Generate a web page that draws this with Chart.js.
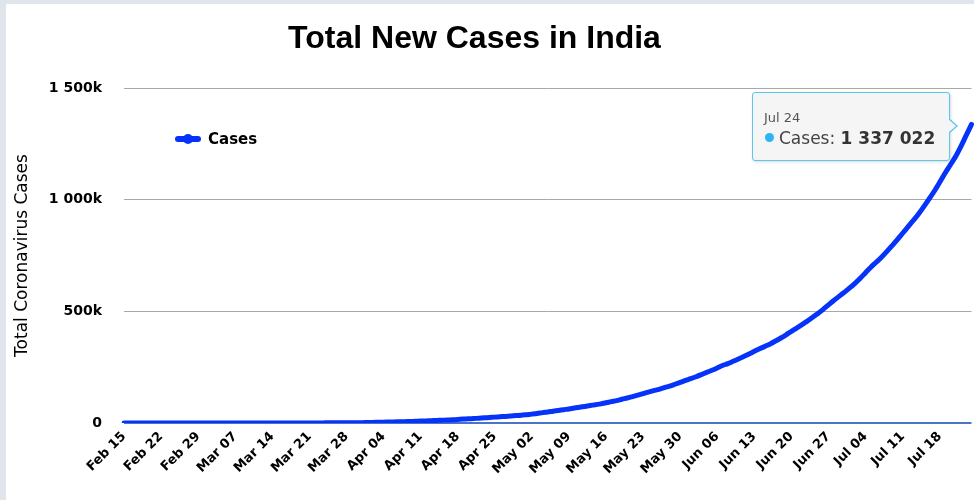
<!DOCTYPE html>
<html>
<head>
<meta charset="utf-8">
<script src="https://cdn.jsdelivr.net/npm/chart.js@4"></script>
<style>
  html, body { margin: 0; padding: 0; background: #fff; }
  #frame { position: absolute; left: 0; top: 0; width: 974px; height: 500px; overflow: hidden;
           border-left: 6px solid #dfe5ea; border-top: 4px solid #dfe5ea; box-sizing: border-box; }
  #wrap { position: absolute; left: 0; top: 0; width: 974px; height: 500px; }
  #title { position: absolute; top: 19px; left: 0; width: 949px; text-align: center;
           font: bold 32px "Liberation Sans", Arial, sans-serif; color: #000; }
  #tip { position: absolute; opacity: 0; background: #f5f5f5; border: 1px solid #5cc6ec;
         border-radius: 3px; box-shadow: 1px 1px 3px rgba(0,0,0,.15); padding: 17px 14px 12px 9px;
         font-family: "DejaVu Sans", Verdana, sans-serif; white-space: nowrap; }
  #tip .t { font-size: 13px; color: #555; margin-left: 2px; margin-bottom: 3px; }
  #tip .b { font-size: 17px; color: #444; }
  #tip .b i { display: inline-block; width: 9px; height: 9px; border-radius: 50%; background: #29b6f6;
              margin: 0 5px 0 3px; vertical-align: 2px; }
  #tip .v { font-weight: bold; color: #333; }
  #tip::after { content: ''; position: absolute; right: -9px; top: 50%; margin-top: -8px;
                border-style: solid; border-width: 8px 0 8px 9px;
                border-color: transparent transparent transparent #5cc6ec; }
  #tip::before { content: ''; position: absolute; right: -7px; top: 50%; margin-top: -7px; z-index: 1;
                 border-style: solid; border-width: 7px 0 7px 8px;
                 border-color: transparent transparent transparent #f5f5f5; }
</style>
</head>
<body>
<div id="frame"></div>
<div id="wrap">
  <div id="title">Total New Cases in India</div>
  <canvas id="chart" width="974" height="500"></canvas>
  <div id="tip"><div class="t"></div><div class="b"><i></i>Cases: <span class="v"></span></div></div>
</div>
<script>
// cumulative confirmed cases, one value per day from Feb 15 to Jul 24
const febCases = [3, 3, 3, 3, 3, 3, 3, 3, 3, 3, 3, 3, 3, 3, 3];
const marCases = [3, 5, 6, 28, 30, 31, 34, 39, 48, 63, 71, 81, 91, 102, 112, 126, 146, 171, 198, 256,
  334, 403, 497, 571, 657, 730, 883, 1019, 1139, 1326, 1635];
const aprCases = [2059, 2545, 3105, 3684, 4293, 4778, 5351, 5916, 6725, 7598, 8446, 9205, 10453, 11487, 12322,
  13430, 14352, 15722, 17615, 18539, 20080, 21370, 23077, 24530, 26283, 27890, 29451, 31324, 33062, 34863];
const mayCases = [37257, 39699, 42505, 46437, 49400, 53045, 56351, 59765, 62939, 67176, 70768, 74292, 78055,
  81997, 85784, 90648, 95698, 100328, 106475, 112028, 118226, 124794, 131423, 138536, 144950, 150793, 158086,
  165386, 173491, 181827, 190609];
const junCases = [198370, 207191, 216824, 226713, 236184, 246628, 257486, 265928, 276146, 286605, 297535,
  308993, 320922, 332424, 343091, 354065, 366946, 380532, 395048, 410451, 425282, 440215, 456183, 473105,
  490401, 508953, 528859, 548318, 566840, 585493];
const julCases = [604641, 625544, 648315, 673165, 697413, 719665, 742417, 767296, 793802, 820916, 849553,
  878254, 906752, 936181, 968876, 1003832, 1038716, 1077781, 1118043, 1155191, 1193078, 1238635, 1288108,
  1337022];
const cases = [].concat(febCases, marCases, aprCases, mayCases, junCases, julCases);

const tickLabels = ['Feb 15', 'Feb 22', 'Feb 29', 'Mar 07', 'Mar 14', 'Mar 21', 'Mar 28', 'Apr 04', 'Apr 11',
  'Apr 18', 'Apr 25', 'May 02', 'May 09', 'May 16', 'May 23', 'May 30', 'Jun 06', 'Jun 13', 'Jun 20',
  'Jun 27', 'Jul 04', 'Jul 11', 'Jul 18'];
const yTicks = [0, 500000, 1000000, 1500000];

// day labels "Mon DD"
const MONTHS = ['Jan', 'Feb', 'Mar', 'Apr', 'May', 'Jun', 'Jul', 'Aug', 'Sep', 'Oct', 'Nov', 'Dec'];
const days = cases.map((_, i) => {
  const d = new Date(Date.UTC(2020, 1, 15 + i));
  return MONTHS[d.getUTCMonth()] + ' ' + String(d.getUTCDate()).padStart(2, '0');
});

const LINE = '#0533fa';

function spaced(n) { return String(n).replace(/\B(?=(\d{3})+(?!\d))/g, ' '); }

function externalTooltip({ chart, tooltip }) {
  const el = document.getElementById('tip');
  if (tooltip.opacity === 0) { el.style.opacity = 0; return; }
  const p = tooltip.dataPoints[0];
  el.querySelector('.t').textContent = tooltip.title[0];
  el.querySelector('.v').textContent = spaced(p.raw);
  el.style.opacity = 1;
  el.style.left = (tooltip.caretX - 22 - el.offsetWidth) + 'px';
  el.style.top = (tooltip.caretY + 2 - el.offsetHeight / 2) + 'px';
}

// legend sits inside the plot, top left
const insideLegend = {
  id: 'insideLegend',
  afterDraw(chart) {
    const c = chart.ctx;
    const x = 178, y = 139;
    c.save();
    c.strokeStyle = LINE; c.fillStyle = LINE; c.lineWidth = 6; c.lineCap = 'round';
    c.beginPath(); c.moveTo(x, y); c.lineTo(x + 20, y); c.stroke();
    c.beginPath(); c.arc(x + 10, y, 5, 0, Math.PI * 2); c.fill();
    c.fillStyle = '#000';
    c.font = 'bold 15px "DejaVu Sans", Verdana, sans-serif';
    c.textBaseline = 'middle';
    c.fillText(chart.data.datasets[0].label, x + 30, y + 1);
    c.restore();
  }
};

const chart = new Chart(document.getElementById('chart'), {
  type: 'line',
  data: {
    labels: days,
    datasets: [{
      label: 'Cases', data: cases, borderColor: LINE, backgroundColor: LINE,
      borderWidth: 5, pointRadius: 0, pointHoverRadius: 0, tension: 0.3, borderCapStyle: 'round'
    }]
  },
  options: {
    responsive: false, animation: false, events: [],
    layout: { padding: { left: 8, top: 88, right: 2, bottom: 0 } },
    plugins: {
      legend: { display: false },
      tooltip: { enabled: false, external: externalTooltip }
    },
    scales: {
      x: {
        offset: false,
        grid: { display: false, drawTicks: false },
        border: { display: false },
        afterFit(s) { s.height = 77; s.paddingLeft = 0; s.paddingRight = 0; },
        ticks: {
          autoSkip: false, minRotation: 45, maxRotation: 45, padding: 6, color: '#000',
          font: { family: '"DejaVu Sans", Verdana, sans-serif', weight: 'bold', size: 13 },
          callback(v) { const l = this.getLabelForValue(v); return tickLabels.includes(l) ? l : ''; }
        }
      },
      y: {
        min: 0, max: 1500000,
        afterFit(s) { s.width = 116; },
        afterBuildTicks(s) { s.ticks = yTicks.map(v => ({ value: v })); },
        border: { display: false },
        grid: {
          drawTicks: false,
          color: c => c.tick.value === 0 ? '#4a74c9' : '#a8a8a8',
          lineWidth: c => c.tick.value === 0 ? 2 : 1
        },
        ticks: {
          padding: 22, color: '#000',
          font: { family: '"DejaVu Sans", Verdana, sans-serif', weight: 'bold', size: 14 },
          callback: v => v === 0 ? '0' : spaced(v / 1000) + 'k'
        },
        title: {
          display: true, text: 'Total Coronavirus Cases', color: '#000',
          font: { family: '"DejaVu Sans", Verdana, sans-serif', size: 17 },
          padding: { top: 4, bottom: 0 }
        }
      }
    }
  },
  plugins: [insideLegend]
});

chart.tooltip.setActiveElements([{ datasetIndex: 0, index: cases.length - 1 }], { x: 0, y: 0 });
chart.update();
</script>
</body>
</html>
